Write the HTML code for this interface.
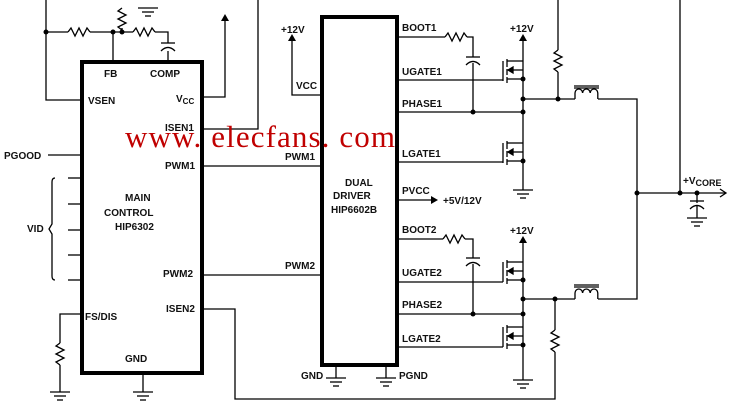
<!DOCTYPE html>
<html><head><meta charset="utf-8"><style>
html,body{margin:0;padding:0;background:#fff;}
svg{display:block;}
text{font-family:"Liberation Sans",Arial,sans-serif;font-weight:bold;font-size:10px;fill:#111;}
.w{font-family:"Liberation Serif",serif;font-weight:normal;font-size:31px;fill:#c00000;}
</style></head><body>
<svg width="729" height="406" viewBox="0 0 729 406" xmlns="http://www.w3.org/2000/svg">
<defs>
<g id="mos" stroke="#000" stroke-width="1.3" fill="none">
 <line x1="-20" y1="0" x2="-20" y2="20"/>
 <line x1="-16" y1="-2" x2="-16" y2="6"/><line x1="-16" y1="8" x2="-16" y2="14"/><line x1="-16" y1="16" x2="-16" y2="22"/>
 <line x1="-16" y1="0" x2="0" y2="0"/>
 <line x1="-13" y1="9" x2="0" y2="9"/>
 <line x1="-16" y1="18" x2="0" y2="18"/>
 <polygon points="-15,9 -10,6 -10,12" fill="#000"/>
 <circle cx="0" cy="18" r="2.5" fill="#000" stroke="none"/>
</g>
<g id="gnd" stroke="#000" stroke-width="1.3">
 <line x1="-10" y1="0" x2="10" y2="0"/><line x1="-6" y1="4" x2="6" y2="4"/><line x1="-3" y1="8" x2="3" y2="8"/>
</g>
<g id="rh" stroke="#000" stroke-width="1.3" fill="none"><polyline points="0,0 3,-4 7,4 11,-4 15,4 19,-4 22,0"/></g>
<g id="rv" stroke="#000" stroke-width="1.3" fill="none"><polyline points="0,0 -4,3 4,7 -4,11 4,15 -4,19 0,22"/></g>
<g id="cap" stroke="#000" stroke-width="1.3" fill="none"><line x1="-7" y1="0" x2="7" y2="0"/><path d="M-7,8 Q0,1 7,8"/></g>
</defs>
<g stroke="#000" stroke-width="1.3" fill="none">
<rect x="82" y="62" width="120" height="311" stroke-width="4"/>
<rect x="322" y="17" width="75" height="348" stroke-width="4"/>
<polyline points="46,0 46,100 82,100"/>
<line x1="46" y1="32" x2="68" y2="32"/><line x1="90" y1="32" x2="133" y2="32"/>
<line x1="113" y1="32" x2="113" y2="62"/>
<line x1="122" y1="28" x2="122" y2="32"/>
<polyline points="155,32 168,32 168,43"/><line x1="168" y1="51" x2="168" y2="62"/>
<line x1="138" y1="8" x2="158" y2="8"/><line x1="142" y1="12" x2="154" y2="12"/><line x1="145" y1="16" x2="151" y2="16"/>
<polyline points="202,97 225,97 225,20"/>
<polyline points="202,129 258,129 258,0"/>
<line x1="48" y1="155" x2="82" y2="155"/>
<line x1="202" y1="166" x2="322" y2="166"/>
<line x1="202" y1="275" x2="322" y2="275"/>
<line x1="68" y1="178" x2="82" y2="178"/><line x1="68" y1="204" x2="82" y2="204"/><line x1="68" y1="230" x2="82" y2="230"/><line x1="68" y1="255" x2="82" y2="255"/><line x1="68" y1="280" x2="82" y2="280"/>
<path d="M55,178 Q52,178 52,182 L52,224 L49,229 L52,234 L52,276 Q52,280 55,280"/>
<polyline points="202,309 235,309 235,399 555,399 555,352"/>
<polyline points="82,314 60,314 60,343"/><line x1="60" y1="365" x2="60" y2="392"/>
<line x1="143" y1="373" x2="143" y2="392"/>
<polyline points="322,95 292,95 292,40"/>
<line x1="397" y1="37" x2="445" y2="37"/><polyline points="467,37 473,37 473,57"/><line x1="473" y1="63" x2="473" y2="112"/>
<line x1="397" y1="80" x2="503" y2="80"/>
<line x1="397" y1="112" x2="523" y2="112"/>
<line x1="397" y1="162" x2="503" y2="162"/>
<line x1="523" y1="40" x2="523" y2="190"/>
<line x1="523" y1="99" x2="575" y2="99"/>
<polyline points="598,99 637,99 637,299 598,299"/>
<line x1="558" y1="0" x2="558" y2="50"/><line x1="558" y1="72" x2="558" y2="99"/>
<line x1="397" y1="200" x2="432" y2="200"/>
<line x1="397" y1="239" x2="443" y2="239"/><polyline points="465,239 473,239 473,258"/><line x1="473" y1="264" x2="473" y2="314"/>
<line x1="397" y1="282" x2="503" y2="282"/>
<line x1="397" y1="314" x2="523" y2="314"/>
<line x1="397" y1="347" x2="503" y2="347"/>
<line x1="523" y1="242" x2="523" y2="380"/>
<line x1="523" y1="299" x2="575" y2="299"/>
<line x1="555" y1="299" x2="555" y2="330"/>
<line x1="336" y1="365" x2="336" y2="378"/><line x1="386" y1="365" x2="386" y2="378"/>
<line x1="637" y1="193" x2="725" y2="193"/><polyline points="720,189 726,193 720,197"/>
<line x1="680" y1="0" x2="680" y2="193"/>
<line x1="697" y1="193" x2="697" y2="203"/><line x1="697" y1="206" x2="697" y2="218"/>
<path d="M575,99 v-6 a3.8,4 0 0 1 7.6,0 a3.8,4 0 0 1 7.6,0 a3.8,4 0 0 1 7.6,0 v6"/>
<line x1="574" y1="86" x2="599" y2="86"/><line x1="574" y1="88" x2="599" y2="88"/>
<path d="M575,299 v-6 a3.8,4 0 0 1 7.6,0 a3.8,4 0 0 1 7.6,0 a3.8,4 0 0 1 7.6,0 v6"/>
<line x1="574" y1="285" x2="599" y2="285"/><line x1="574" y1="287" x2="599" y2="287"/>
</g>
<use href="#rh" x="68" y="32"/><use href="#rh" x="133" y="32"/>
<use href="#rv" x="122" y="8"/>
<use href="#rv" x="60" y="343"/>
<use href="#rh" x="445" y="37"/><use href="#rh" x="443" y="239"/>
<use href="#rv" x="558" y="50"/><use href="#rv" x="555" y="330"/>
<use href="#cap" x="168" y="43"/><use href="#cap" x="473" y="57"/><use href="#cap" x="473" y="258"/><use href="#cap" x="697" y="201"/>
<use href="#gnd" x="60" y="392"/><use href="#gnd" x="143" y="392"/><use href="#gnd" x="523" y="190"/><use href="#gnd" x="523" y="380"/>
<use href="#gnd" x="336" y="378"/><use href="#gnd" x="386" y="378"/><use href="#gnd" x="697" y="218"/>
<use href="#mos" x="523" y="61"/><use href="#mos" x="523" y="143"/><use href="#mos" x="523" y="262"/><use href="#mos" x="523" y="327"/>
<g fill="#000">
<polygon points="225,14 221,21 229,21"/><polygon points="292,34 288,41 296,41"/>
<polygon points="523,34 519,41 527,41"/><polygon points="523,236 519,243 527,243"/>
<polygon points="438,200 431,196 431,204"/>
<circle cx="46" cy="32" r="2.5"/><circle cx="113" cy="32" r="2.5"/><circle cx="122" cy="32" r="2.5"/>
<circle cx="473" cy="112" r="2.5"/><circle cx="523" cy="99" r="2.5"/><circle cx="523" cy="112" r="2.5"/><circle cx="558" cy="99" r="2.5"/>
<circle cx="473" cy="314" r="2.5"/><circle cx="523" cy="299" r="2.5"/><circle cx="523" cy="314" r="2.5"/><circle cx="555" cy="299" r="2.5"/>
<circle cx="637" cy="193" r="2.5"/><circle cx="680" cy="193" r="2.5"/><circle cx="697" cy="193" r="2.5"/>
</g>
<text x="104" y="77">FB</text><text x="150" y="77">COMP</text>
<text x="88" y="104">VSEN</text><text x="176" y="102">V<tspan font-size="8" dy="2">CC</tspan></text>
<text x="165" y="131">ISEN1</text><text x="4" y="159">PGOOD</text><text x="165" y="169">PWM1</text>
<text x="125" y="201">MAIN</text><text x="104" y="216">CONTROL</text><text x="115" y="230">HIP6302</text>
<text x="27" y="232">VID</text>
<text x="163" y="277">PWM2</text><text x="166" y="312">ISEN2</text><text x="85" y="320">FS/DIS</text><text x="125" y="362">GND</text>
<text x="281" y="33">+12V</text><text x="296" y="89">VCC</text>
<text x="285" y="160">PWM1</text><text x="285" y="269">PWM2</text>
<text x="345" y="186">DUAL</text><text x="333" y="199">DRIVER</text><text x="331" y="213">HIP6602B</text>
<text x="402" y="31">BOOT1</text><text x="402" y="75">UGATE1</text><text x="402" y="107">PHASE1</text><text x="402" y="157">LGATE1</text>
<text x="402" y="194">PVCC</text><text x="443" y="204">+5V/12V</text>
<text x="402" y="233">BOOT2</text><text x="402" y="276">UGATE2</text><text x="402" y="308">PHASE2</text><text x="402" y="342">LGATE2</text>
<text x="510" y="32">+12V</text><text x="510" y="234">+12V</text>
<text x="301" y="379">GND</text><text x="399" y="379">PGND</text>
<text x="683" y="184">+V<tspan font-size="9" dy="2">CORE</tspan></text>
<text class="w" x="125" y="147" textLength="270" lengthAdjust="spacing">www. elecfans. com</text>
</svg>
</body></html>
